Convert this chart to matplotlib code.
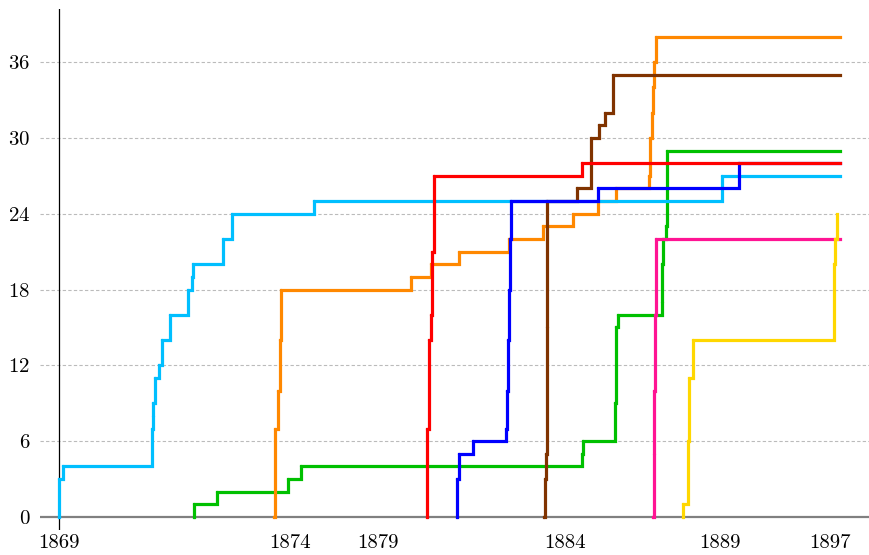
import matplotlib
matplotlib.use('Agg')
import matplotlib.pyplot as plt

# x is a position along the (non-linear) time axis, 0 = 1869 tick
tick_pos = [0, 231, 319, 506, 661, 771]
tick_labels = ['1869', '1874', '1879', '1884', '1889', '1897']
y_ticks = [0, 6, 12, 18, 24, 30, 36]

# cumulative counts per series (step-post)
lb_x = [0, 0.3, 3.7, 92.7, 93.5, 94.3, 96, 100, 103, 111, 128.7, 132.7, 134, 163.7, 173, 255, 662.7, 781]
lb_y = [0, 3, 4, 7, 8, 9, 11, 12, 14, 16, 18, 19, 20, 22, 24, 25, 27, 27]

gr_x = [135.3, 135.5, 158.3, 229.3, 241.7, 522.7, 523.7, 556.5, 557, 557.5, 558.7, 602.7, 603.5, 604.3, 607, 607.6, 608.3, 781]
gr_y = [0, 1, 2, 3, 4, 5, 6, 9, 12, 15, 16, 17, 20, 22, 23, 26, 29, 29]

or_x = [215.3, 216, 219.3, 220.5, 221.7, 351.7, 372, 400, 450, 483.7, 513.7, 539.3, 557, 590.3, 591.5, 593, 594, 595.3, 597, 781]
or_y = [0, 7, 10, 14, 18, 19, 20, 21, 22, 23, 24, 25, 26, 27, 30, 32, 34, 36, 38, 38]

rd_x = [367.7, 368.5, 370.3, 372, 373.5, 375.3, 522.7, 781]
rd_y = [0, 7, 14, 16, 21, 27, 28, 28]

bl_x = [397.7, 398, 400, 414.3, 447, 448, 449, 450, 451, 452, 539.3, 680, 781]
bl_y = [0, 3, 5, 6, 7, 10, 14, 18, 22, 25, 26, 28, 28]

br_x = [485.3, 485.8, 486.7, 487.5, 488.3, 517.7, 532, 540, 546, 554.3, 781]
br_y = [0, 3, 5, 15, 25, 26, 30, 31, 32, 35, 35]

pk_x = [594.3, 595, 595.5, 596.2, 596.7, 781]
pk_y = [0, 5, 10, 16, 22, 22]

yl_x = [623.7, 623.9, 629, 630, 634.3, 775.3, 776.5, 778.3]
yl_y = [0, 1, 6, 11, 14, 20, 22, 24]

# drawing order matches the overlaps seen in the original
series = [
    (gr_x, gr_y, '#00C000'),
    (or_x, or_y, '#FF8800'),
    (lb_x, lb_y, '#00BFFF'),
    (br_x, br_y, '#803300'),
    (bl_x, bl_y, '#0000FF'),
    (rd_x, rd_y, '#FF0000'),
    (pk_x, pk_y, '#FF1493'),
    (yl_x, yl_y, '#FFD700'),
]

plt.rcParams['font.family'] = 'serif'
plt.rcParams['font.serif'] = ['cmr10']
plt.rcParams['axes.formatter.use_mathtext'] = True

W, H = 869, 555
fig = plt.figure(figsize=(W / 100, H / 100), dpi=100)
ax = fig.add_axes([40 / W, (H - 530) / H, (W - 40) / W, (530 - 9) / H])

for xs, ys, c in series:
    ax.plot(xs, ys, drawstyle='steps-post', color=c, linewidth=2.3,
            solid_joinstyle='miter', zorder=3)
    # small event dots along the rises (not on the trailing end point)
    ax.plot(xs[:-1], ys[:-1], linestyle='none', marker='o', markersize=1.3,
            color=c, zorder=3)

ax.set_xlim(-19, 810)
ax.set_ylim(-1.03, 40.2)
ax.set_yticks(y_ticks)
ax.set_xticks(tick_pos)
ax.set_xticklabels(tick_labels)
ax.tick_params(axis='both', length=0, labelsize=15)
ax.tick_params(axis='y', pad=7)
ax.tick_params(axis='x', pad=3)

for v in y_ticks[1:]:
    ax.axhline(v, color='#bbbbbb', linewidth=0.8, linestyle=(0, (3, 2)), zorder=1)
ax.axhline(0, color='#808080', linewidth=1.6, zorder=2)
ax.axvline(0, color='black', linewidth=0.9, zorder=2)

for s in ax.spines.values():
    s.set_visible(False)

fig.savefig('out.png', dpi=100)
